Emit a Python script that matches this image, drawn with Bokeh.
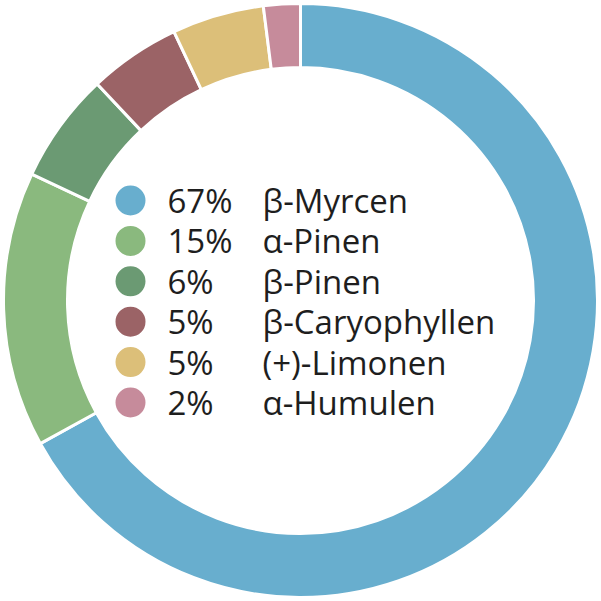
import math
from bokeh.plotting import figure
from bokeh.models import Range1d, ColumnDataSource
from bokeh.core.properties import value
from bokeh.embed import file_html
from bokeh.resources import INLINE

names = ["β-Myrcen", "α-Pinen", "β-Pinen", "β-Caryophyllen", "(+)-Limonen", "α-Humulen"]
shares = [67, 15, 6, 5, 5, 2]
labels = ["67%", "15%", "6%", "5%", "5%", "2%"]
colors = ["#68aece", "#8ab97e", "#6b9a73", "#9b6366", "#dcbf79", "#c68b9b"]

W = 601
# data coordinates = reference pixel coordinates (y flipped so that up is positive)
p = figure(width=W, height=W, output_backend="svg", toolbar_location=None,
           x_range=Range1d(0, W), y_range=Range1d(601 - W, 601),
           min_border=0)
p.axis.visible = False
p.grid.visible = False
p.outline_line_color = None
p.background_fill_color = "white"

cx, cy = 300, 301
total = sum(shares)
starts, ends = [], []
acc = 0
for s in shares:
    a0 = math.pi / 2 - 2 * math.pi * acc / total
    acc += s
    a1 = math.pi / 2 - 2 * math.pi * acc / total
    starts.append(a1)
    ends.append(a0)

src = ColumnDataSource(dict(start=starts, end=ends, color=colors))
p.annular_wedge(x=cx, y=cy, inner_radius=233, outer_radius=297,
                start_angle="start", end_angle="end", fill_color="color",
                line_color="white", line_width=3, source=src)

# legend
n = len(names)
row_y = [601 - (200 + i * 40.4) for i in range(n)]
leg = ColumnDataSource(dict(y=row_y, color=colors, pct=labels, name=names,
                            x0=[130] * n, x1=[167] * n, x2=[262] * n))
p.scatter(x="x0", y="y", size=30, fill_color="color", line_color=None, source=leg)
font = value("Open Sans")
p.text(x="x1", y="y", text="pct", text_font=font, text_font_size="33px",
       text_baseline="middle", text_align="left", text_color="#1e1e1e", source=leg)
p.text(x="x2", y="y", text="name", text_font=font, text_font_size="33px",
       text_baseline="middle", text_align="left", text_color="#1e1e1e", source=leg)

open("out.html", "w").write(file_html(p, INLINE))
